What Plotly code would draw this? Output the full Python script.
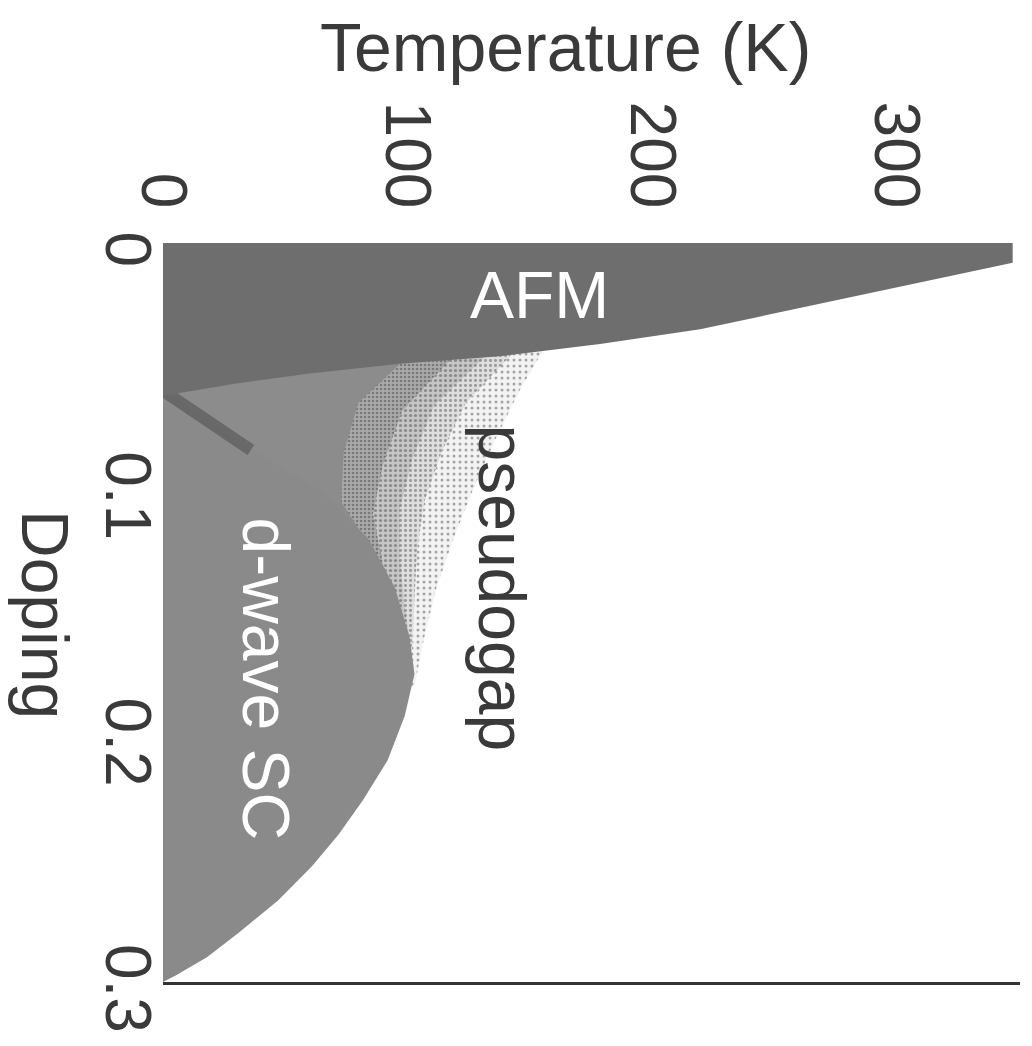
import plotly.graph_objects as go

# ---- data (Temperature in K, Doping) ----
temp_ticks = [0, 100, 200, 300]
temp_ticktext = ["0", "100", "200", "300"]
dop_ticks = [0, 0.1, 0.2, 0.3]
dop_ticktext = ["0", "0.1", "0.2", "0.3"]

# AFM region boundary (Neel line), from T=0 at top edge down to T=0
afm_T = [0, 348, 348, 220, 179, 138, 97, 60, 30, 0]
afm_d = [0, 0, 0.008, 0.035, 0.041, 0.046, 0.049, 0.053, 0.057, 0.062]

# superconducting dome
sc_d = [0.060, 0.070, 0.084, 0.100, 0.120, 0.140, 0.160, 0.175, 0.192, 0.210,
        0.226, 0.240, 0.253, 0.267, 0.280, 0.290, 0.2975, 0.300]
sc_T = [0, 15, 36, 64, 84, 95, 101, 103, 99, 92, 82, 72, 61, 47, 31, 18, 5, 0]

# pseudogap shading bands (outer T*, middle bands, inner)
pg_out_d = [0.043, 0.060, 0.080, 0.100, 0.120, 0.140, 0.160, 0.180]
pg_out_T = [156, 146, 136, 127, 119, 112, 107, 103]
pg_mid1_d = [0.045, 0.065, 0.085, 0.105, 0.125, 0.145, 0.165]
pg_mid1_T = [143, 124, 114, 107, 104, 103, 102]
pg_mid2_d = [0.046, 0.066, 0.088, 0.108, 0.128, 0.148, 0.160]
pg_mid2_T = [132, 111, 102, 97, 97, 99, 101]
pg_mid3_d = [0.047, 0.068, 0.090, 0.110, 0.130, 0.150]
pg_mid3_T = [118, 98, 90, 86, 90, 97]
pg_in_d = [0.049, 0.065, 0.085, 0.105, 0.125, 0.135]
pg_in_T = [97, 80, 74, 73, 86, 92]

region_labels = ["AFM", "pseudogap", "d-wave SC"]
label_T = [154, 139, 42]
label_d = [0.021, 0.140, 0.177]

T_MAX = 351
W, H = 1032, 1046
ML, MR, MT, MB = 163, 12, 243, 64

fig = go.Figure()


def band(T, d, color, pattern=None):
    xs = [0] + list(T) + [0]
    ys = [d[0]] + list(d) + [d[-1]]
    kw = dict(x=xs, y=ys, mode="lines", fill="toself", fillcolor=color,
              line=dict(width=0), hoverinfo="skip", showlegend=False)
    if pattern:
        kw["fillpattern"] = pattern
    fig.add_trace(go.Scatter(**kw))


band(pg_out_T, pg_out_d, "rgba(0,0,0,0)",
     dict(shape=".", fgcolor="#555555", bgcolor="#f3f3f3", size=6, solidity=0.2))
band(pg_mid1_T, pg_mid1_d, "rgba(0,0,0,0)",
     dict(shape=".", fgcolor="#505050", bgcolor="#dedede", size=5, solidity=0.28))
band(pg_mid2_T, pg_mid2_d, "rgba(0,0,0,0)",
     dict(shape=".", fgcolor="#4c4c4c", bgcolor="#c6c6c6", size=5, solidity=0.32))
band(pg_mid3_T, pg_mid3_d, "rgba(0,0,0,0)",
     dict(shape=".", fgcolor="#484848", bgcolor="#aaaaaa", size=4, solidity=0.35))
band(pg_in_T, pg_in_d, "#8c8c8c")

# SC dome
fig.add_trace(go.Scatter(x=sc_T + [0], y=sc_d + [sc_d[0]], mode="lines", fill="toself",
                         fillcolor="#8a8a8a", line=dict(width=0),
                         hoverinfo="skip", showlegend=False))
# darker shading along the dome's underdoped edge
fig.add_trace(go.Scatter(x=sc_T[:3], y=sc_d[:3], mode="lines",
                         line=dict(color="rgba(40,40,40,0.35)", width=12),
                         hoverinfo="skip", showlegend=False))
# AFM
fig.add_trace(go.Scatter(x=afm_T, y=afm_d, mode="lines", fill="toself",
                         fillcolor="#6e6e6e", line=dict(width=0),
                         hoverinfo="skip", showlegend=False))

# bottom axis line via a second x axis
fig.add_trace(go.Scatter(x=[0], y=[0.3], xaxis="x2", mode="markers",
                         marker=dict(opacity=0), hoverinfo="skip", showlegend=False))

font_main = "Liberation Sans, Arial, sans-serif"
txt_color = "#3a3a3a"

for txt, t, d in zip(region_labels, label_T, label_d):
    if txt == "AFM":
        fig.add_annotation(x=t, y=d, text=txt, showarrow=False, textangle=0,
                           font=dict(family=font_main, size=66, color="white"))
    elif txt == "pseudogap":
        fig.add_annotation(x=t, y=d, text=txt, showarrow=False, textangle=90,
                           font=dict(family=font_main, size=66, color=txt_color))
    else:
        fig.add_annotation(x=t, y=d, text=txt, showarrow=False, textangle=90,
                           font=dict(family=font_main, size=66, color="white"))

pw = W - ML - MR
ph = H - MT - MB
fig.add_annotation(xref="paper", yref="paper", x=(565 - ML) / pw, y=(H - MB - 47) / ph,
                   text="Temperature (K)", showarrow=False, xanchor="center", yanchor="middle",
                   font=dict(family=font_main, size=68, color=txt_color))
fig.add_annotation(xref="paper", yref="paper", x=(45 - ML) / pw, y=(H - MB - 614) / ph,
                   text="Doping", showarrow=False, textangle=90, xanchor="center", yanchor="middle",
                   font=dict(family=font_main, size=66, color=txt_color))

fig.update_layout(
    width=W, height=H,
    margin=dict(l=ML, r=MR, t=MT, b=MB, pad=0),
    paper_bgcolor="white", plot_bgcolor="white",
    xaxis=dict(range=[0, T_MAX], side="top", tickvals=temp_ticks, ticktext=temp_ticktext,
               tickangle=90, showgrid=False, zeroline=False, showline=False, ticks="",
               ticklabelstandoff=24,
               tickfont=dict(family=font_main, size=64, color=txt_color)),
    xaxis2=dict(range=[0, T_MAX], overlaying="x", side="bottom", showline=True,
                linecolor="#333333", linewidth=3, showticklabels=False, ticks="",
                showgrid=False, zeroline=False),
    yaxis=dict(range=[0.3, 0], tickvals=dop_ticks, ticktext=dop_ticktext, tickangle=90,
               showgrid=False, zeroline=False, showline=False, ticks="",
               ticklabelstandoff=-8, ticklabelshift=-16,
               tickfont=dict(family=font_main, size=64, color=txt_color)),
)

fig.write_html("out.html")
